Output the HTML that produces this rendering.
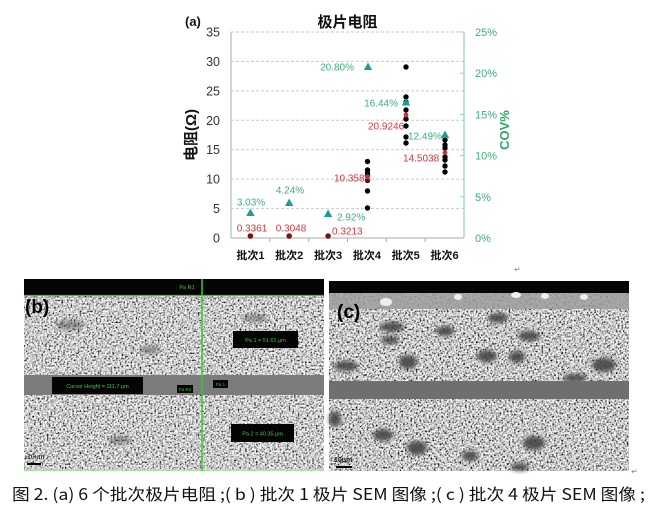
<!DOCTYPE html>
<html><head><meta charset="utf-8"><style>
html,body{margin:0;padding:0;background:#fff;}
svg{display:block;}
text{font-family:"Liberation Sans","Noto Sans CJK SC",sans-serif;}
</style></head><body>
<svg width="651" height="525" viewBox="0 0 651 525" xmlns="http://www.w3.org/2000/svg">
<defs>
<filter id="nb" filterUnits="userSpaceOnUse" x="24" y="295" width="300" height="176">
<feTurbulence type="fractalNoise" baseFrequency="0.55" numOctaves="2" seed="4"/>
<feColorMatrix type="matrix" values="2.4 0 0 0 -0.6  2.4 0 0 0 -0.6  2.4 0 0 0 -0.6  0 0 0 0 1"/>
</filter>
<filter id="nc" filterUnits="userSpaceOnUse" x="329" y="293" width="300" height="178">
<feTurbulence type="fractalNoise" baseFrequency="0.55" numOctaves="2" seed="9"/>
<feColorMatrix type="matrix" values="2.4 0 0 0 -0.62  2.4 0 0 0 -0.62  2.4 0 0 0 -0.62  0 0 0 0 1"/>
</filter>
<filter id="blur1"><feGaussianBlur stdDeviation="2"/></filter>
</defs>
<rect width="651" height="525" fill="#fff"/>

<!-- ===== Chart (a) ===== -->
<text x="185" y="26" font-size="13" font-weight="bold" fill="#111">(a)</text>
<text x="347.5" y="27" font-size="15" font-weight="bold" fill="#111" text-anchor="middle">极片电阻</text>

<g stroke="#c9c9c9" stroke-width="1" stroke-dasharray="3,2">
<line x1="231" y1="32" x2="464" y2="32"/>
<line x1="231" y1="61.4" x2="464" y2="61.4"/>
<line x1="231" y1="90.9" x2="464" y2="90.9"/>
<line x1="231" y1="120.3" x2="464" y2="120.3"/>
<line x1="231" y1="149.7" x2="464" y2="149.7"/>
<line x1="231" y1="179.1" x2="464" y2="179.1"/>
<line x1="231" y1="208.6" x2="464" y2="208.6"/>
</g>
<line x1="231" y1="32" x2="231" y2="238" stroke="#a8a8a8" stroke-width="1"/>
<line x1="231" y1="238" x2="464" y2="238" stroke="#a8a8a8" stroke-width="1"/>
<g stroke="#a8a8a8" stroke-width="1">
<line x1="269.8" y1="238" x2="269.8" y2="242"/>
<line x1="308.7" y1="238" x2="308.7" y2="242"/>
<line x1="347.5" y1="238" x2="347.5" y2="242"/>
<line x1="386.3" y1="238" x2="386.3" y2="242"/>
<line x1="425.2" y1="238" x2="425.2" y2="242"/>
</g>
<line x1="464" y1="32" x2="464" y2="238" stroke="#8fd6b2" stroke-width="1.2"/>
<g stroke="#8fd6b2" stroke-width="1">
<line x1="460" y1="32" x2="464" y2="32"/>
<line x1="460" y1="73.2" x2="464" y2="73.2"/>
<line x1="460" y1="114.4" x2="464" y2="114.4"/>
<line x1="460" y1="155.6" x2="464" y2="155.6"/>
<line x1="460" y1="196.8" x2="464" y2="196.8"/>
</g>

<g font-size="12.5" fill="#333" text-anchor="end">
<text x="220" y="36.5">35</text>
<text x="220" y="65.9">30</text>
<text x="220" y="95.4">25</text>
<text x="220" y="124.8">20</text>
<text x="220" y="154.2">15</text>
<text x="220" y="183.6">10</text>
<text x="220" y="213.1">5</text>
<text x="220" y="242.5">0</text>
</g>
<g font-size="11" fill="#3bb273">
<text x="475" y="36">25%</text>
<text x="475" y="77.2">20%</text>
<text x="475" y="118.4">15%</text>
<text x="475" y="159.6">10%</text>
<text x="475" y="200.8">5%</text>
<text x="475" y="242">0%</text>
</g>
<text transform="translate(196,135) rotate(-90)" font-size="15" font-weight="bold" fill="#111" text-anchor="middle">电阻(Ω)</text>
<text transform="translate(509,130) rotate(-90)" font-size="13" font-weight="bold" fill="#2ea868" text-anchor="middle">COV%</text>

<g font-size="11" font-weight="bold" fill="#111" text-anchor="middle">
<text x="250.4" y="259">批次1</text>
<text x="289.2" y="259">批次2</text>
<text x="328.1" y="259">批次3</text>
<text x="366.9" y="259">批次4</text>
<text x="405.7" y="259">批次5</text>
<text x="444.6" y="259">批次6</text>
</g>

<!-- dots -->
<g fill="#000">
<circle cx="367.5" cy="161.5" r="2.7"/>
<circle cx="367.5" cy="170" r="2.7"/>
<circle cx="367.5" cy="173" r="2.7"/>
<circle cx="367.5" cy="175.6" r="2.7"/>
<circle cx="367.5" cy="180.3" r="2.7"/>
<circle cx="367.5" cy="191" r="2.7"/>
<circle cx="367.5" cy="208" r="2.7"/>
<circle cx="406" cy="67" r="2.7"/>
<circle cx="406" cy="97" r="2.7"/>
<circle cx="406" cy="102" r="2.7"/>
<circle cx="406" cy="110" r="2.7"/>
<circle cx="406" cy="119" r="2.7"/>
<circle cx="406" cy="126" r="2.7"/>
<circle cx="406" cy="137" r="2.7"/>
<circle cx="406" cy="143" r="2.7"/>
<circle cx="445" cy="140" r="2.7"/>
<circle cx="445" cy="145" r="2.7"/>
<circle cx="445" cy="148" r="2.7"/>
<circle cx="445" cy="157" r="2.7"/>
<circle cx="445" cy="160" r="2.7"/>
<circle cx="445" cy="166" r="2.7"/>
<circle cx="445" cy="172" r="2.7"/>
</g>
<g fill="#7a1414">
<circle cx="250.4" cy="236" r="2.8"/>
<circle cx="289.2" cy="236" r="2.8"/>
<circle cx="328.1" cy="236" r="2.8"/>
</g>
<g fill="#c8303a">
<circle cx="367.5" cy="177" r="2.4"/>
<circle cx="406" cy="115" r="2.4"/>
<circle cx="445" cy="152.7" r="2.4"/>
</g>

<!-- triangles -->
<g fill="#1a9e96">
<polygon points="250.4,208.5 254.6,216 246.2,216"/>
<polygon points="289.2,198.5 293.4,206 285,206"/>
<polygon points="328.1,209.5 332.3,217 323.9,217"/>
<polygon points="368,62.5 372.2,70 363.8,70"/>
<polygon points="406,98 410.2,105.5 401.8,105.5"/>
<polygon points="445,130.5 449.2,138 440.8,138"/>
</g>

<g font-size="10" fill="#3bb273">
<text x="251" y="205.5" text-anchor="middle">3.03%</text>
<text x="290" y="193.5" text-anchor="middle">4.24%</text>
<text x="337" y="220.5">2.92%</text>
<text x="354" y="70.5" text-anchor="end">20.80%</text>
<text x="398" y="106.5" text-anchor="end">16.44%</text>
<text x="408" y="139.5">12.49%</text>
</g>
<g font-size="10" fill="#d8333b">
<text x="252" y="231.5" text-anchor="middle">0.3361</text>
<text x="291" y="231.5" text-anchor="middle">0.3048</text>
<text x="332" y="234.5">0.3213</text>
<text x="334" y="181.5">10.3583</text>
<text x="368" y="129.5">20.9246</text>
<text x="403" y="161.5">14.5038</text>
</g>
<text x="514" y="272" font-size="8" fill="#888">↵</text>

<!-- ===== Panel (b) ===== -->
<rect x="24" y="279" width="300" height="16" fill="#050505"/>
<text x="187" y="289" font-size="5.5" fill="#3c3" text-anchor="middle">Pa R1</text>
<rect x="24" y="295" width="300" height="176" filter="url(#nb)"/>
<g filter="url(#blur1)" fill="#555" opacity="0.55">
<ellipse cx="70" cy="325" rx="14" ry="5"/>
<ellipse cx="255" cy="318" rx="12" ry="4"/>
<ellipse cx="150" cy="350" rx="10" ry="4"/>
<ellipse cx="120" cy="440" rx="12" ry="4"/>
</g>
<rect x="24" y="375" width="300" height="20" fill="#7c7c7c"/>
<line x1="24" y1="295.5" x2="324" y2="295.5" stroke="#35c235" stroke-width="1.2"/>
<line x1="24" y1="297.5" x2="324" y2="297.5" stroke="#b79ad0" stroke-width="1" opacity="0.7"/>
<line x1="24" y1="470" x2="324" y2="470" stroke="#9ff09f" stroke-width="1.5"/>
<line x1="202" y1="279" x2="202" y2="471" stroke="#3c3" stroke-width="1.5"/>
<rect x="233" y="331" width="65" height="17" fill="#050505"/>
<text x="265.5" y="342" font-size="5.5" fill="#3c3" text-anchor="middle">Pa 1 = 51.61 µm</text>
<rect x="52" y="377" width="91" height="17" fill="#050505"/>
<text x="97.5" y="388" font-size="5.5" fill="#3c3" text-anchor="middle">Cursor Height = 111.7 µm</text>
<rect x="231" y="424" width="63" height="18" fill="#050505"/>
<text x="262.5" y="435.5" font-size="5.5" fill="#3c3" text-anchor="middle">Pa 2 = 40.35 µm</text>
<rect x="177" y="385" width="16" height="8" fill="#050505"/>
<text x="185" y="391" font-size="4.5" fill="#3c3" text-anchor="middle">Pa R2</text>
<rect x="213" y="380" width="15" height="8" fill="#050505"/>
<text x="220.5" y="386" font-size="4.5" fill="#3c3" text-anchor="middle">Pa 1</text>
<text x="25" y="313" font-size="19" font-weight="bold" fill="#000">(b)</text>
<text x="27" y="459" font-size="7" fill="#111">10um</text>
<line x1="27" y1="464" x2="41" y2="464" stroke="#000" stroke-width="2"/>

<!-- ===== Panel (c) ===== -->
<rect x="329" y="281" width="300" height="13" fill="#050505"/>
<rect x="329" y="293" width="300" height="178" filter="url(#nc)"/>
<rect x="329" y="293" width="300" height="16" fill="#9e9e9e" opacity="0.85"/>
<g fill="#eee">
<ellipse cx="386" cy="302" rx="6" ry="4"/>
<ellipse cx="458" cy="297" rx="4" ry="3"/>
<ellipse cx="516" cy="295" rx="5" ry="3"/>
<ellipse cx="545" cy="296" rx="4" ry="3"/>
<ellipse cx="584" cy="297" rx="4" ry="3"/>
</g>
<g filter="url(#blur1)" fill="#444" opacity="0.9">
<ellipse cx="498" cy="318" rx="10" ry="5"/>
<ellipse cx="392" cy="327" rx="12" ry="5"/>
<ellipse cx="445" cy="331" rx="9" ry="5"/>
<ellipse cx="390" cy="340" rx="9" ry="4"/>
<ellipse cx="529" cy="336" rx="11" ry="5"/>
<ellipse cx="487" cy="356" rx="10" ry="6"/>
<ellipse cx="517" cy="357" rx="8" ry="6"/>
<ellipse cx="408" cy="362" rx="9" ry="7"/>
<ellipse cx="346" cy="366" rx="12" ry="5"/>
<ellipse cx="604" cy="365" rx="12" ry="7"/>
<ellipse cx="575" cy="378" rx="12" ry="4"/>
<ellipse cx="335" cy="419" rx="6" ry="8"/>
<ellipse cx="383" cy="435" rx="10" ry="6"/>
<ellipse cx="417" cy="448" rx="10" ry="7"/>
<ellipse cx="534" cy="443" rx="11" ry="7"/>
<ellipse cx="470" cy="456" rx="8" ry="5"/>
<ellipse cx="520" cy="467" rx="9" ry="4"/>
</g>
<rect x="329" y="381" width="300" height="18" fill="#6f6f6f"/>
<text x="337" y="318" font-size="19" font-weight="bold" fill="#000">(c)</text>
<text x="334" y="462" font-size="7" fill="#111" font-weight="bold">10um</text>
<line x1="336" y1="467" x2="352" y2="467" stroke="#000" stroke-width="2"/>
<text x="631" y="474" font-size="8" fill="#888">↵</text>

<!-- caption -->
<text x="12" y="500" font-size="16" fill="#111" textLength="633" lengthAdjust="spacingAndGlyphs" style="font-family:'Noto Sans CJK SC','Liberation Sans',sans-serif">图 2. (a) 6 个批次极片电阻 ;( b ) 批次 1 极片 SEM 图像 ;( c ) 批次 4 极片 SEM 图像 ;</text>
</svg>
</body></html>
